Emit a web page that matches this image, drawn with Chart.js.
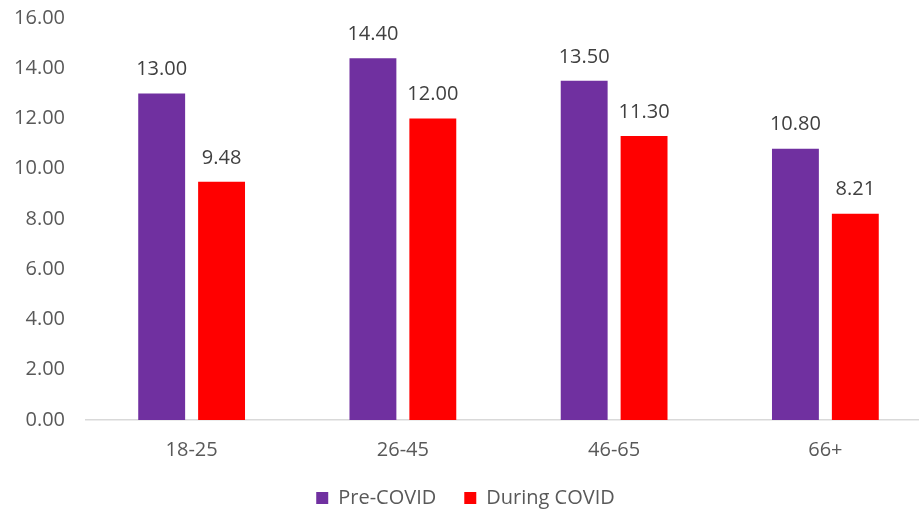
<!DOCTYPE html>
<html lang="en">
  <head>
    <meta charset="UTF-8" />
    <title>Pre vs During COVID by Age</title>
    <script src="https://cdn.jsdelivr.net/npm/chart.js"></script>
    <style>
      html,
      body {
        margin: 0;
        padding: 0;
        background: #fff;
        overflow: hidden;
      }
      canvas {
        display: block;
      }
    </style>
  </head>
  <body>
    <canvas id="chart" width="931" height="518"></canvas>

    <script>
      const ageGroups = ["18-25", "26-45", "46-65", "66+"];
      const preCovid = [13.0, 14.4, 13.5, 10.8];
      const duringCovid = [9.48, 12.0, 11.3, 8.21];
      const seriesNames = ["Pre-COVID", "During COVID"];

      const fontFamily = "'Open Sans', sans-serif";

      // writes the value above each bar
      const valueLabels = {
        id: "valueLabels",
        afterDatasetsDraw(chart) {
          const ctx = chart.ctx;
          ctx.save();
          ctx.font = "20px " + fontFamily;
          ctx.fillStyle = "#404040";
          ctx.textAlign = "center";
          ctx.textBaseline = "middle";
          chart.data.datasets.forEach((ds, i) => {
            chart.getDatasetMeta(i).data.forEach((bar, j) => {
              ctx.fillText(ds.data[j].toFixed(2), bar.x, bar.y - 24);
            });
          });
          ctx.restore();
        },
      };

      new Chart(document.getElementById("chart"), {
        type: "bar",
        data: {
          labels: ageGroups,
          datasets: [
            {
              label: seriesNames[0],
              data: preCovid,
              backgroundColor: "#7030A0",
              categoryPercentage: 0.567,
              barPercentage: 0.783,
            },
            {
              label: seriesNames[1],
              data: duringCovid,
              backgroundColor: "#FF0000",
              categoryPercentage: 0.567,
              barPercentage: 0.783,
            },
          ],
        },
        options: {
          responsive: false,
          animation: false,
          layout: { padding: 0 },
          plugins: {
            tooltip: { enabled: false },
            legend: {
              position: "bottom",
              labels: {
                boxWidth: 12,
                boxHeight: 12,
                padding: 28,
                color: "#595959",
                font: { family: fontFamily, size: 20 },
              },
            },
          },
          scales: {
            x: {
              grid: { display: false, drawTicks: false },
              border: { color: "#d9d9d9", width: 1.5 },
              ticks: {
                color: "#595959",
                padding: 18,
                font: { family: fontFamily, size: 20 },
              },
              afterFit(scale) {
                scale.height -= 20;
              },
            },
            y: {
              min: 0,
              max: 16,
              grid: { display: false, drawTicks: false },
              border: { display: false },
              ticks: {
                stepSize: 2,
                padding: 21,
                color: "#595959",
                font: { family: fontFamily, size: 20 },
                callback: (v) => v.toFixed(2),
              },
              afterFit(scale) {
                scale.width = 86;
                scale.paddingTop = 18;
                scale.paddingBottom = 0;
              },
            },
          },
        },
        plugins: [valueLabels],
      });
    </script>
  </body>
</html>
